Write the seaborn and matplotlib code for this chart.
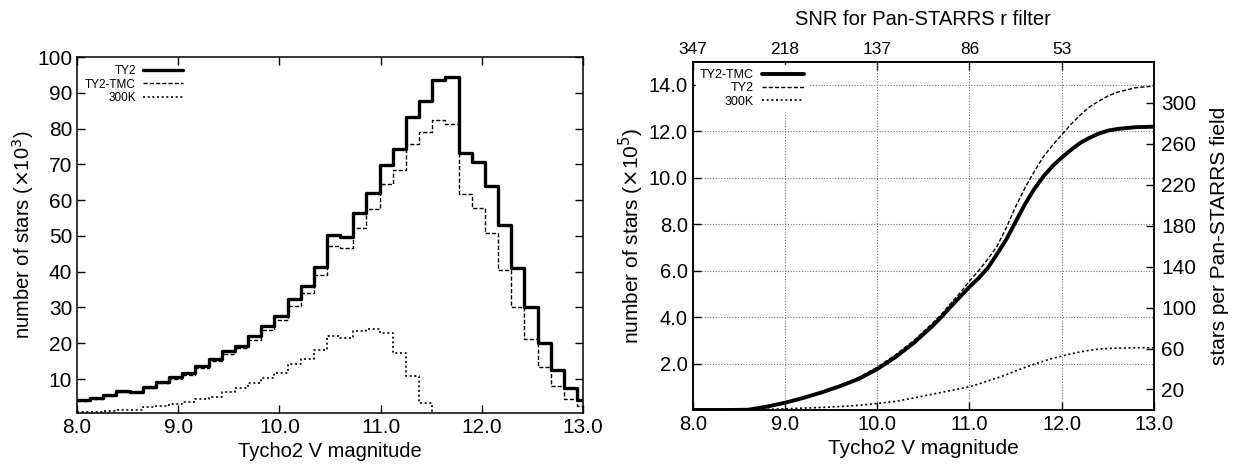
import numpy as np
import matplotlib
matplotlib.use("Agg")
import matplotlib.pyplot as plt
from matplotlib.lines import Line2D
import seaborn as sns

sns.set_style("ticks")
plt.rcParams["font.family"] = ["Liberation Sans", "DejaVu Sans"]
plt.rcParams.update({
    "axes.linewidth": 1.1,
    "text.color": "black",
    "axes.labelcolor": "black",
    "axes.edgecolor": "black",
    "xtick.color": "black",
    "ytick.color": "black",
})

# ---------------- left panel: counts per 0.13 mag bin (x10^3 stars) ----------------
bin_start = [8.00, 8.13, 8.26, 8.39, 8.52, 8.65, 8.78, 8.91, 9.04, 9.17,
             9.30, 9.43, 9.56, 9.69, 9.82, 9.95, 10.08, 10.21, 10.34, 10.47,
             10.60, 10.73, 10.86, 10.99, 11.12, 11.25, 11.38, 11.51, 11.64, 11.77,
             11.90, 12.03, 12.16, 12.29, 12.42, 12.55, 12.68, 12.81, 12.94]
bin_end = 13.07

ty2_counts = [4.1, 4.6, 5.5, 6.7, 6.5, 7.9, 9.3, 10.5, 11.8, 13.7,
              15.6, 17.8, 19.3, 22.0, 24.8, 27.7, 32.4, 36.1, 41.4, 50.3,
              49.8, 56.4, 61.9, 69.9, 74.3, 83.2, 87.8, 93.6, 94.3, 73.3,
              70.8, 64.1, 53.1, 41.0, 30.1, 20.0, 12.5, 7.4, 4.1]
tmc_counts = [3.8, 4.4, 5.2, 6.5, 6.3, 7.4, 8.8, 10.0, 11.1, 13.0,
              14.9, 16.9, 18.6, 20.9, 23.7, 26.5, 30.5, 34.1, 39.1, 47.2,
              46.6, 52.2, 57.6, 64.5, 68.3, 75.7, 79.0, 82.4, 81.2, 61.7,
              57.7, 50.9, 40.6, 30.1, 21.2, 13.4, 8.1, 4.4, 2.5]
k300_counts = [0.7, 0.85, 1.1, 1.4, 1.4, 2.1, 2.4, 3.0, 3.5, 4.3,
               5.0, 6.4, 7.4, 8.8, 10.2, 11.8, 14.1, 15.5, 18.1, 22.0,
               21.4, 23.4, 23.9, 22.8, 17.4, 10.9, 3.4, 0.0, 0.0, 0.0,
               0.0, 0.0, 0.0, 0.0, 0.0, 0.0, 0.0, 0.0, 0.0]

# ---------------- right panel: cumulative counts (x10^5 stars) ----------------
mag_pts = [8.0, 8.4, 8.6, 8.8, 9.0, 9.2, 9.4, 9.6, 9.8, 10.0, 10.2, 10.4, 10.6,
           10.7, 10.8, 10.9, 11.0, 11.1, 11.2, 11.3, 11.4, 11.5, 11.6, 11.7, 11.8,
           11.9, 12.0, 12.1, 12.2, 12.3, 12.4, 12.5, 12.6, 12.8, 13.0]
cum_tmc = [0.0, 0.0, 0.01, 0.14, 0.31, 0.52, 0.76, 1.03, 1.34, 1.76, 2.28, 2.9, 3.62,
           4.02, 4.46, 4.88, 5.3, 5.68, 6.12, 6.72, 7.35, 8.1, 8.85, 9.5, 10.05,
           10.5, 10.87, 11.2, 11.5, 11.72, 11.9, 12.03, 12.1, 12.18, 12.2]
cum_ty2 = [0.0, 0.0, 0.01, 0.15, 0.33, 0.54, 0.79, 1.07, 1.4, 1.84, 2.38, 3.0, 3.74,
           4.14, 4.6, 5.05, 5.55, 6.0, 6.5, 7.06, 7.85, 8.75, 9.55, 10.25, 10.9,
           11.4, 11.85, 12.3, 12.7, 13.05, 13.3, 13.52, 13.68, 13.88, 13.95]
cum_300k = [0.0, 0.01, 0.02, 0.03, 0.05, 0.08, 0.11, 0.15, 0.2, 0.28, 0.37, 0.52, 0.68,
            0.76, 0.84, 0.92, 1.0, 1.12, 1.25, 1.38, 1.52, 1.68, 1.83, 1.97, 2.1,
            2.22, 2.32, 2.42, 2.5, 2.57, 2.62, 2.65, 2.66, 2.68, 2.68]

snr_ticks = [8.0, 9.0, 10.0, 11.0, 12.0]
snr_labels = ["347", "218", "137", "86", "53"]

SOLID = dict(color="black", linewidth=2.4, linestyle="-")
DASHED = dict(color="black", linewidth=1.0, linestyle=(0, (3, 1.5)))
DOTTED = dict(color="black", linewidth=1.2, linestyle=(0, (1.2, 1.6)))

fig = plt.figure(figsize=(12.4, 4.72), dpi=100)

# ---------------- left: histograms ----------------
ax1 = fig.add_axes([0.0621, 0.125, 0.4081, 0.754])
edges = bin_start + [bin_end]
centers = [b + 0.065 for b in bin_start]
for counts, sty in [(ty2_counts, SOLID), (tmc_counts, DASHED), (k300_counts, DOTTED)]:
    sns.histplot(x=centers, weights=counts, bins=edges, element="step",
                 fill=False, ax=ax1, **sty)
ax1.set_xlim(8.0, 13.0)
ax1.set_ylim(0.5, 100)
ax1.set_xticks([8, 9, 10, 11, 12, 13])
ax1.set_xticklabels([f"{v:.1f}" for v in [8, 9, 10, 11, 12, 13]])
ax1.set_yticks(range(10, 101, 10))
ax1.tick_params(direction="in", top=True, right=True, length=6, width=1, labelsize=15)
ax1.set_xlabel("Tycho2 V magnitude", fontsize=14.5)
ax1.set_ylabel(r"number of stars ($\times$10$^3$)", fontsize=14.5, labelpad=1)

h1 = [Line2D([], [], label="TY2", **SOLID),
      Line2D([], [], label="TY2-TMC", **DASHED),
      Line2D([], [], label="300K", **DOTTED)]
ax1.legend(handles=h1, loc="upper left", bbox_to_anchor=(0.0, 1.0), frameon=False,
           markerfirst=False, fontsize=8.5, handlelength=3.4, labelspacing=0.1,
           handletextpad=0.6, borderaxespad=0.3)

# ---------------- right: cumulative curves ----------------
ax2 = fig.add_axes([0.5586, 0.1314, 0.372, 0.7379])
sns.lineplot(x=mag_pts, y=cum_300k, ax=ax2, **DOTTED)
sns.lineplot(x=mag_pts, y=cum_ty2, ax=ax2, **DASHED)
sns.lineplot(x=mag_pts, y=cum_tmc, ax=ax2, **{**SOLID, "linewidth": 2.8})
ax2.set_xlim(8.0, 13.0)
ax2.set_ylim(0, 15.0)
ax2.set_xticks([8, 9, 10, 11, 12, 13])
ax2.set_xticklabels([f"{v:.1f}" for v in [8, 9, 10, 11, 12, 13]])
ax2.set_yticks(np.arange(2, 15, 2))
ax2.set_yticklabels([f"{v:.1f}" for v in np.arange(2, 15, 2)])
ax2.grid(True, linestyle=(0, (1, 1.5)), color="#777777", linewidth=0.8)
ax2.tick_params(direction="in", length=6, width=1, labelsize=14.5)
ax2.set_xlabel("Tycho2 V magnitude", fontsize=15)
ax2.set_ylabel(r"number of stars ($\times$10$^5$)", fontsize=15, labelpad=2)

sec = ax2.secondary_xaxis("top")
sec.set_xticks(snr_ticks, labels=snr_labels)
sec.tick_params(direction="in", length=6, width=1, labelsize=12.5)
sec.set_xlabel("SNR for Pan-STARRS r filter", fontsize=14.5, labelpad=12)

ax3 = ax2.twinx()
ax3.set_ylim(0, 340)
ax3.set_yticks(range(20, 301, 40))
ax3.tick_params(direction="in", length=6, width=1, labelsize=15, pad=5)
ax3.set_ylabel("stars per Pan-STARRS field", fontsize=15, labelpad=10)

h2 = [Line2D([], [], label="TY2-TMC", **{**SOLID, "linewidth": 2.8}),
      Line2D([], [], label="TY2", **DASHED),
      Line2D([], [], label="300K", **DOTTED)]
ax3.legend(handles=h2, loc="upper left", bbox_to_anchor=(0.0, 1.0), frameon=True,
           markerfirst=False, fontsize=9, handlelength=3.4, labelspacing=0.1,
           handletextpad=0.6, borderaxespad=0.3, fancybox=False,
           edgecolor="white", framealpha=1.0, borderpad=0.3)

fig.savefig("out.png", dpi=100)
